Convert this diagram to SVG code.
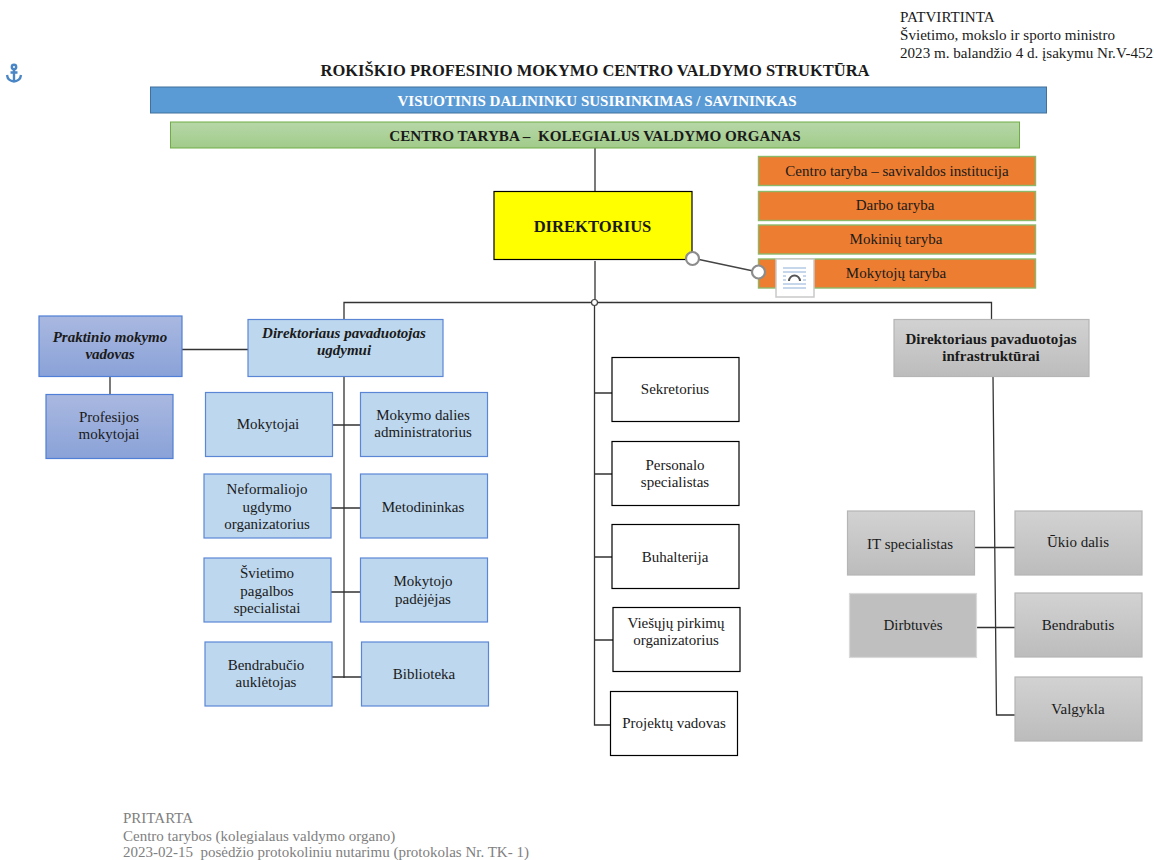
<svg xmlns="http://www.w3.org/2000/svg" width="1154" height="860" viewBox="0 0 1154 860">
<style>
text{font-family:"Liberation Serif","Times New Roman",serif;font-size:15px;fill:#1a1a1a;text-anchor:middle;white-space:pre}
.l{text-anchor:start;font-size:15.100px}
.b{font-weight:bold}
.i{font-weight:bold;font-style:italic}
.g{fill:#808080;font-size:15px}
.lb{fill:#bdd7ee;stroke:#5b86d6;stroke-width:1.2}
.per{fill:url(#per);stroke:#4f7fd6;stroke-width:1.2}
.wh{fill:#fff;stroke:#000;stroke-width:1.2}
.gr{fill:url(#gry);stroke:#b5b5b5;stroke-width:1.2}
.or{fill:#ed7d31;stroke:#8cb86a;stroke-width:1.4}
.c{fill:none;stroke:#333;stroke-width:1.3}
</style>
<defs>
<linearGradient id="per" x1="0" y1="0" x2="0" y2="1"><stop offset="0" stop-color="#a9b8e0"/><stop offset="1" stop-color="#8aa2d8"/></linearGradient>
<linearGradient id="gry" x1="0" y1="0" x2="0" y2="1"><stop offset="0" stop-color="#d2d2d2"/><stop offset="1" stop-color="#bcbcbc"/></linearGradient>
<linearGradient id="grn" x1="0" y1="0" x2="0" y2="1"><stop offset="0" stop-color="#b7d7a8"/><stop offset="1" stop-color="#a1cb8a"/></linearGradient>
</defs>

<g id="connectors">
<path class="c" d="M595 148V191M595 261V302M344 319V302.500H991.500V319"/>
<path class="c" d="M594.500 302V725H610M594.500 393H612M594.500 474H612M594.500 557H612M594.500 640H613"/>
<path class="c" d="M182 349.500H248M110 377V394"/>
<path class="c" d="M344 377V678M332 425H360M331 508H360M331 592H360M332 677H361"/>
<path class="c" d="M993 376L996.500 715H1015M975 547.500H1015M976 627.500H1015"/>
<path d="M692 258L758 272" fill="none" stroke="#444" stroke-width="1.3"/>
</g>

<g id="anchor" fill="none" stroke="#4a86c5" stroke-width="2.400">
<circle cx="14" cy="67" r="2.200"/>
<path d="M14 69.500V81.500M10.500 72.500H17.500M7 75C7.500 79.500 11 81.500 14 81.500C17 81.500 20.500 79.500 21 75"/>
</g>

<g id="approved">
<text class="l" x="900" y="22">PATVIRTINTA</text>
<text class="l" x="900" y="40">Švietimo, mokslo ir sporto ministro</text>
<text class="l" x="900" y="58">2023 m. balandžio 4 d. įsakymu Nr.V-452</text>
</g>
<text id="title" class="b" x="595" y="76" style="font-size:16.500px">ROKIŠKIO PROFESINIO MOKYMO CENTRO VALDYMO STRUKTŪRA</text>

<g id="n-susirinkimas"><rect x="150.500" y="87" width="896" height="26" fill="#5b9bd5" stroke="#41719c"/><text class="b" x="597" y="106" style="fill:#fff">VISUOTINIS DALININKU SUSIRINKIMAS / SAVININKAS</text></g>
<g id="n-taryba"><rect x="170.500" y="122" width="849" height="26" fill="url(#grn)" stroke="#70ad47"/><text class="b" x="595" y="141" style="font-size:15.150px">CENTRO TARYBA –  KOLEGIALUS VALDYMO ORGANAS</text></g>
<g id="n-direktorius"><rect x="494" y="191.500" width="198" height="68" fill="#ff0" stroke="#000" stroke-width="1.2"/><text class="b" x="592.500" y="232" style="font-size:16.600px">DIREKTORIUS</text></g>

<g id="n-savivaldos"><rect class="or" x="758.500" y="156.500" width="277" height="29"/><text x="897" y="176">Centro taryba – savivaldos institucija</text></g>
<g id="n-darbo"><rect class="or" x="758.500" y="191.500" width="277" height="29"/><text x="895" y="210">Darbo taryba</text></g>
<g id="n-mokiniu"><rect class="or" x="758.500" y="225" width="277" height="29"/><text x="896" y="244">Mokinių taryba</text></g>
<g id="n-mokytoju"><rect class="or" x="758.500" y="259" width="277" height="29"/><text x="896" y="278">Mokytojų taryba</text></g>

<g id="layout-icon">
<rect x="776" y="259" width="38" height="38" fill="#fff" stroke="#c9c9c9" stroke-width="1.500"/>
<path d="M783 268H806M783 272H806M783 276H786M803 276H806M783 280H786M803 280H806M783 284H806M783 288H806" stroke="#8fb0d8" stroke-width="1.200" fill="none"/>
<path d="M789 281A5.500 5.500 0 0 1 800 281" fill="none" stroke="#555" stroke-width="2"/>
</g>
<g id="handles" fill="#fff" stroke="#8c8c8c" stroke-width="2.200">
<circle cx="692.500" cy="258.500" r="6.500"/>
<circle cx="758.500" cy="272" r="6.500"/>
<circle cx="594.500" cy="302.500" r="3" stroke="#444" stroke-width="1.200"/>
</g>

<g id="n-praktinio"><rect class="per" x="39" y="316" width="143" height="60.500"/><text class="i" x="110" y="342">Praktinio mokymo</text><text class="i" x="110" y="359">vadovas</text></g>
<g id="n-profesijos"><rect class="per" x="46" y="394.500" width="127" height="64"/><text x="109" y="421.500">Profesijos</text><text x="109" y="438.500">mokytojai</text></g>
<g id="n-pav-ugdymui"><rect class="lb" x="248" y="319.500" width="195" height="57"/><text class="i" x="344" y="337.500">Direktoriaus pavaduotojas</text><text class="i" x="344" y="354.500">ugdymui</text></g>

<g id="n-mokytojai"><rect class="lb" x="205.500" y="392.500" width="127" height="64"/><text x="268" y="429">Mokytojai</text></g>
<g id="n-administratorius"><rect class="lb" x="360.500" y="392.500" width="127" height="64"/><text x="423" y="420">Mokymo dalies</text><text x="423" y="437">administratorius</text></g>
<g id="n-neformaliojo"><rect class="lb" x="204" y="474" width="127" height="64"/><text x="267" y="494">Neformaliojo</text><text x="267" y="512">ugdymo</text><text x="267" y="529">organizatorius</text></g>
<g id="n-metodininkas"><rect class="lb" x="360.500" y="474" width="127" height="64"/><text x="423" y="512">Metodininkas</text></g>
<g id="n-svietimo"><rect class="lb" x="204" y="558" width="127" height="64"/><text x="267" y="578">Švietimo</text><text x="267" y="596">pagalbos</text><text x="267" y="613">specialistai</text></g>
<g id="n-padejejas"><rect class="lb" x="360.500" y="558" width="127" height="64"/><text x="423" y="586">Mokytojo</text><text x="423" y="604">padėjėjas</text></g>
<g id="n-aukletojas"><rect class="lb" x="205" y="642" width="127" height="64"/><text x="266" y="670">Bendrabučio</text><text x="266" y="687">auklėtojas</text></g>
<g id="n-biblioteka"><rect class="lb" x="361.500" y="642" width="127" height="64"/><text x="424" y="679">Biblioteka</text></g>

<g id="n-sekretorius"><rect class="wh" x="612" y="357.500" width="127" height="64"/><text x="675" y="394">Sekretorius</text></g>
<g id="n-personalo"><rect class="wh" x="612" y="441.500" width="127" height="64"/><text x="675" y="470">Personalo</text><text x="675" y="487">specialistas</text></g>
<g id="n-buhalterija"><rect class="wh" x="612" y="524.500" width="127" height="64"/><text x="675" y="562">Buhalterija</text></g>
<g id="n-pirkimu"><rect class="wh" x="613" y="607.500" width="127" height="64"/><text x="676" y="628">Viešųjų pirkimų</text><text x="676" y="645">organizatorius</text></g>
<g id="n-projektu"><rect class="wh" x="610.500" y="691.500" width="127" height="64"/><text x="674" y="728">Projektų vadovas</text></g>

<g id="n-pav-infra"><rect class="gr" x="894" y="319.500" width="195" height="57"/><text class="b" x="991" y="343.500">Direktoriaus pavaduotojas</text><text class="b" x="991" y="360.500">infrastruktūrai</text></g>
<g id="n-it"><rect class="gr" x="847.500" y="511" width="127" height="64"/><text x="910" y="549">IT specialistas</text></g>
<g id="n-ukio"><rect class="gr" x="1015" y="511" width="127" height="64"/><text x="1078" y="547">Ūkio dalis</text></g>
<g id="n-dirbtuves"><rect x="849.500" y="593.500" width="127" height="64" fill="#bfbfbf" stroke="#d9d9d9" stroke-width="1.200"/><text x="913" y="630">Dirbtuvės</text></g>
<g id="n-bendrabutis"><rect class="gr" x="1015" y="593" width="127" height="64"/><text x="1078" y="630">Bendrabutis</text></g>
<g id="n-valgykla"><rect class="gr" x="1015" y="677" width="127" height="64"/><text x="1078" y="714">Valgykla</text></g>

<g id="agreed">
<text class="l g" x="123" y="823">PRITARTA</text>
<text class="l g" x="123" y="841">Centro tarybos (kolegialaus valdymo organo)</text>
<text class="l g" x="123" y="857">2023-02-15  posėdžio protokoliniu nutarimu (protokolas Nr. TK- 1)</text>
</g>
</svg>
